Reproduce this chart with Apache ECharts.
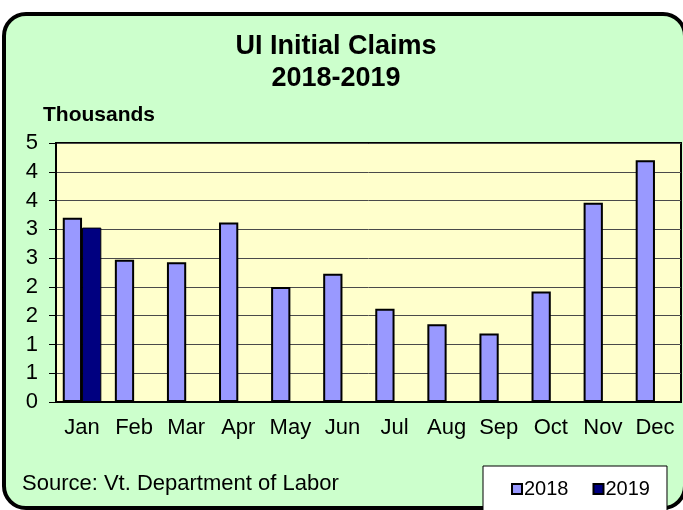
<!DOCTYPE html>
<html>
<head>
<meta charset="utf-8">
<script src="https://cdn.jsdelivr.net/npm/echarts@6/dist/echarts.min.js"></script>
<style>
  html, body { margin: 0; padding: 0; background: #fff; }
  #chart { width: 683px; height: 510px; }
</style>
</head>
<body>
<div id="chart"></div>
<script>
const months = ['Jan', 'Feb', 'Mar', 'Apr', 'May', 'Jun', 'Jul', 'Aug', 'Sep', 'Oct', 'Nov', 'Dec']
const claims2018 = [3.2, 2.47, 2.43, 3.12, 2.0, 2.23, 1.62, 1.35, 1.19, 1.92, 3.46, 4.2]
const claims2019 = [3.03, null, null, null, null, null, null, null, null, null, null, null]
const seriesNames = ['2018', '2019']

const font = 'Liberation Sans, Arial, sans-serif'
const chart = echarts.init(document.getElementById('chart'))

let option = {
  backgroundColor: '#fff',
  animation: false,
  graphic: [
    {
      type: 'rect',
      z: -10,
      shape: { x: 4, y: 14, width: 681, height: 494, r: 22 },
      style: { fill: '#CCFFCC', stroke: '#000', lineWidth: 4 },
    },
    {
      type: 'text',
      x: 336, y: 47,
      style: { text: 'UI Initial Claims', font: 'bold 27px ' + font, fill: '#000', align: 'center', verticalAlign: 'middle' },
    },
    {
      type: 'text',
      x: 336, y: 79,
      style: { text: '2018-2019', font: 'bold 27px ' + font, fill: '#000', align: 'center', verticalAlign: 'middle' },
    },
    {
      type: 'text',
      x: 43, y: 115,
      style: { text: 'Thousands', font: 'bold 21px ' + font, fill: '#000', align: 'left', verticalAlign: 'middle' },
    },
    {
      type: 'text',
      x: 22, y: 484,
      style: { text: 'Source: Vt. Department of Labor', font: '22px ' + font, fill: '#000', align: 'left', verticalAlign: 'middle' },
    },
  ],
  legend: {
    data: seriesNames,
    left: 483,
    top: 466,
    padding: [13, 17, 30, 28],
    itemGap: 24,
    itemWidth: 10,
    itemHeight: 10,
    icon: 'rect',
    backgroundColor: '#fff',
    borderColor: '#000',
    borderWidth: 1,
    textStyle: { fontFamily: font, fontSize: 20, color: '#000', padding: [0, 0, 0, -3] },
  },
  grid: {
    left: 56,
    right: 2,
    top: 143,
    bottom: 108,
    show: true,
    backgroundColor: '#FFFFCC',
    borderColor: '#000',
    borderWidth: 2,
  },
  xAxis: {
    type: 'category',
    data: months,
    axisLine: { lineStyle: { color: '#000', width: 2 } },
    axisTick: { length: 5, interval: 0, lineStyle: { color: '#000' } },
    axisLabel: { interval: 0, hideOverlap: false, fontFamily: font, fontSize: 22, color: '#000', margin: 15 },
  },
  yAxis: {
    type: 'value',
    min: 0,
    max: 4.5,
    interval: 0.5,
    axisLine: { show: true, lineStyle: { color: '#000', width: 2 } },
    axisTick: { show: true, length: 7, lineStyle: { color: '#000' } },
    axisLabel: {
      fontFamily: font, fontSize: 22, color: '#000', margin: 18,
      formatter: (v) => Math.round(v).toString(),
    },
    splitLine: { lineStyle: { color: '#4a4a4a', width: 1 } },
  },
  series: [
    {
      name: seriesNames[0],
      type: 'bar',
      data: claims2018,
      barWidth: '37%',
      barGap: '0%',
      itemStyle: { color: '#9999FF', borderColor: '#000', borderWidth: 2 },
    },
    {
      name: seriesNames[1],
      type: 'bar',
      data: claims2019,
      barWidth: '37%',
      itemStyle: { color: '#000080', borderColor: '#000', borderWidth: 1 },
    },
  ],
}

chart.setOption(option)
</script>
</body>
</html>
